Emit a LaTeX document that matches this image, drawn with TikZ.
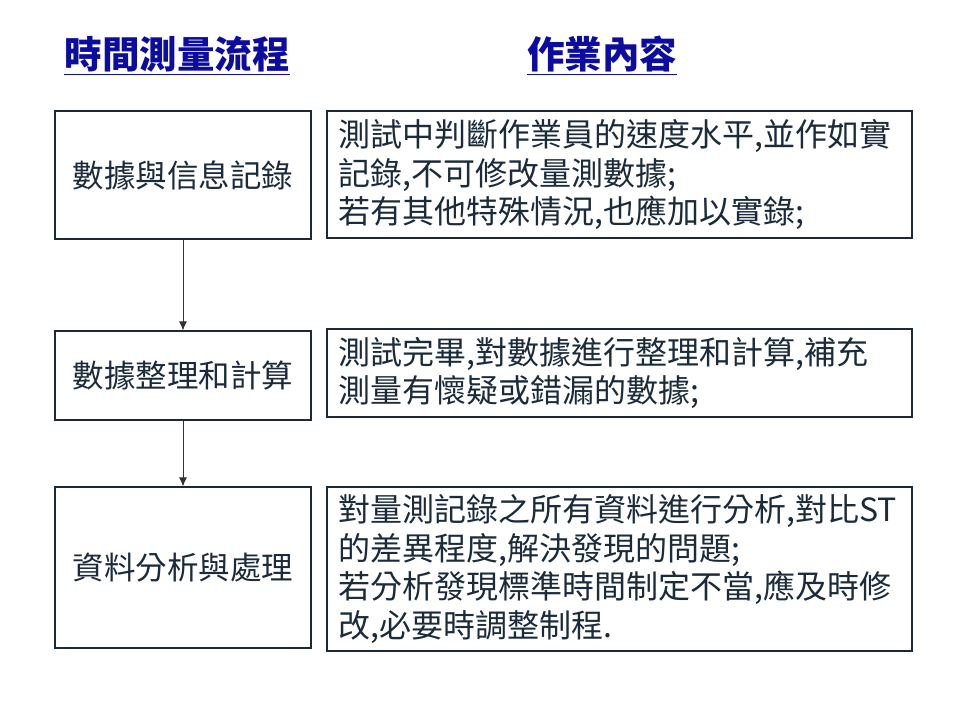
\documentclass[tikz,border=0pt]{standalone}
\usepackage{fontspec}
\setmainfont{Noto Sans CJK TC}
\usetikzlibrary{arrows.meta}
\definecolor{txt}{HTML}{1B2B3B}
\definecolor{brd}{HTML}{1E2A33}
\definecolor{hdr}{HTML}{0C0CA0}
\tikzset{
  flowbox/.style={draw=brd,line width=1.2pt,minimum width=256pt,inner sep=0pt,text=txt,font=\fontsize{31.5}{36}\selectfont},
  workbox/.style={draw=brd,line width=1.2pt,minimum width=585pt,inner sep=0pt},
  worktext/.style={anchor=west,inner sep=0pt,text=txt,align=left,font=\fontsize{32}{38.5}\selectfont},
  header/.style={inner sep=0pt,text=hdr,font=\fontsize{37.5}{42}\selectfont\bfseries},
  flowarrow/.style={draw=black!80,line width=0.9pt,-{Latex[length=9pt,width=8pt]}}
}
\begin{document}
\begin{tikzpicture}[x=1pt,y=-1pt]
\useasboundingbox[fill=white] (0,0) rectangle (960,720);
% headers
\node[header] (h1) at (177,54) {時間測量流程};
\node[header] (h2) at (602,54) {作業內容};
\draw[hdr,line width=1.5pt] ([yshift=-6pt]h1.base west) -- ([yshift=-6pt]h1.base east);
\draw[hdr,line width=1.5pt] ([yshift=-6pt]h2.base west) -- ([yshift=-6pt]h2.base east);
% left flow boxes
\node[flowbox,minimum height=128pt] (f1) at (183,175) {數據與信息記錄};
\node[flowbox,minimum height=89pt] (f2) at (183,375.5) {數據整理和計算};
\node[flowbox,minimum height=161pt] (f3) at (183,567.5) {資料分析與處理};
\draw[flowarrow] (f1) -- (f2);
\draw[flowarrow] (f2) -- (f3);
% right work boxes
\node[workbox,minimum height=127pt] (w1) at (619.5,174.5) {};
\node[workbox,minimum height=88pt] (w2) at (619.5,373) {};
\node[workbox,minimum height=164pt] (w3) at (619.5,569) {};
\node[worktext] (t1) at ([xshift=12pt]w1.west) {測試中判斷作業員的速度水平,並作如實\\記錄,不可修改量測數據;\\若有其他特殊情況,也應加以實錄;};
\node[worktext] (t2) at ([xshift=12pt]w2.west) {測試完畢,對數據進行整理和計算,補充\\測量有懷疑或錯漏的數據;};
\node[worktext] (t3) at ([xshift=12pt]w3.west) {對量測記錄之所有資料進行分析,對比ST\\的差異程度,解決發現的問題;\\若分析發現標準時間制定不當,應及時修\\改,必要時調整制程.};
\end{tikzpicture}
\end{document}
